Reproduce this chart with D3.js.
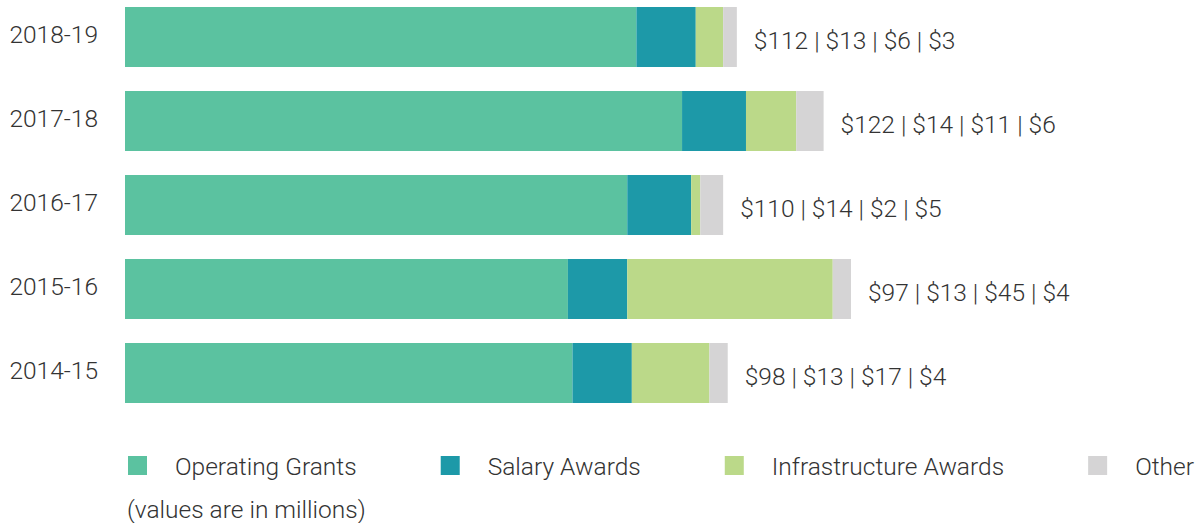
<!DOCTYPE html>
<html>
<head>
<meta charset="utf-8">
<script src="https://cdn.jsdelivr.net/npm/d3@7"></script>
<style>
  body { margin: 0; background: #fff; }
  text { font-family: Roboto, "Liberation Sans", sans-serif; font-weight: 300; fill: #333; }
</style>
</head>
<body>
<svg id="chart" width="1198" height="523"></svg>
<script>
var years = ['2018-19', '2017-18', '2016-17', '2015-16', '2014-15']
var seriesNames = ['Operating Grants', 'Salary Awards', 'Infrastructure Awards', 'Other']
var operating = [112, 122, 110, 97, 98]
var salary = [13, 14, 14, 13, 13]
var infrastructure = [6, 11, 2, 45, 17]
var other = [3, 6, 5, 4, 4]
var colors = ['#5bc2a0', '#1d99a8', '#bbd989', '#d5d4d5']
var note = '(values are in millions)'

var fontSize = '24.5px'
var svg = d3.select('#chart')

// build rows from the arrays
var rows = years.map(function (y, i) {
  return { year: y, values: [operating[i], salary[i], infrastructure[i], other[i]] }
})
rows.forEach(function (r) {
  var acc = 0
  r.parts = r.values.map(function (v, k) {
    var p = { k: k, x0: acc, x1: acc + v, year: r.year }
    acc += v
    return p
  })
  r.total = acc
})

var x = d3.scaleLinear()
  .domain([0, d3.max(rows, function (r) { return r.total })])
  .range([125, 851])

var y = d3.scaleBand()
  .domain(years)
  .range([7, 403])
  .paddingInner(24 / 84)
  .paddingOuter(0)

// bars
var g = svg.selectAll('g.row').data(rows).enter()
  .append('g').attr('class', 'row')

g.selectAll('rect').data(function (r) { return r.parts })
  .enter().append('rect')
  .attr('x', function (p) { return x(p.x0) })
  .attr('y', function (p) { return y(p.year) })
  .attr('width', function (p) { return x(p.x1) - x(p.x0) })
  .attr('height', y.bandwidth())
  .attr('fill', function (p) { return colors[p.k] })

// year labels
g.append('text')
  .attr('x', 98)
  .attr('y', function (r) { return y(r.year) + y.bandwidth() / 2 - 3 })
  .attr('dy', '0.35em')
  .attr('text-anchor', 'end')
  .style('font-size', fontSize)
  .text(function (r) { return r.year })

// value labels
g.append('text')
  .attr('x', function (r) { return x(r.total) + 17 })
  .attr('y', function (r) { return y(r.year) + y.bandwidth() / 2 + 3 })
  .attr('dy', '0.35em')
  .style('font-size', fontSize)
  .text(function (r) {
    return r.values.map(function (v) { return '$' + v }).join(' | ')
  })

// legend, spread across the width
var legend = svg.append('g')
var items = legend.selectAll('g').data(seriesNames).enter().append('g')
items.append('rect')
  .attr('width', 19).attr('height', 19)
  .attr('y', 456)
  .attr('fill', function (d, i) { return colors[i] })
items.append('text')
  .attr('x', 47)
  .attr('y', 466)
  .attr('dy', '0.35em')
  .style('font-size', fontSize)
  .text(function (d) { return d })

var widths = []
items.each(function () { widths.push(this.getBBox().width) })
var left = 128, right = 1194
var gap = (right - left - d3.sum(widths)) / (widths.length - 1)
var pos = left
items.attr('transform', function (d, i) {
  var t = 'translate(' + pos + ',0)'
  pos += widths[i] + gap
  return t
})

svg.append('text')
  .attr('x', 127)
  .attr('y', 509)
  .attr('dy', '0.35em')
  .style('font-size', fontSize)
  .text(note)
</script>
</body>
</html>
